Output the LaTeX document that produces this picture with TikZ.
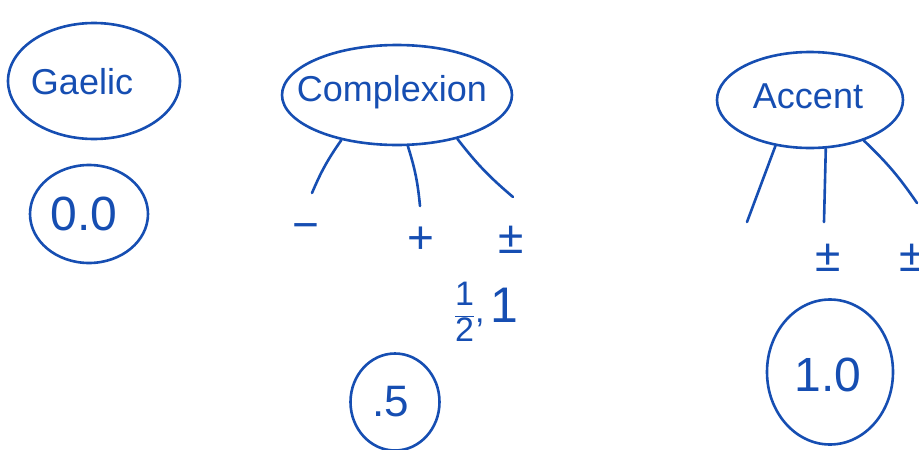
\documentclass[tikz,border=0pt]{standalone}
\usepackage{fontspec}
\setmainfont{Liberation Sans}
\usetikzlibrary{shapes.geometric}
\definecolor{penblue}{RGB}{22,78,178}
\tikzset{
  pen/.style={draw=penblue, line width=2.6pt, line cap=round},
  oval/.style={ellipse, pen, inner sep=0pt},
  big/.style={text=penblue, font=\fontsize{36}{40}\selectfont},
  huge/.style={text=penblue, font=\fontsize{48}{52}\selectfont},
  sign/.style={text=penblue, font=\fontsize{46}{48}\selectfont}
}
\begin{document}
\begin{tikzpicture}[x=1pt,y=-1pt]
\useasboundingbox (0,0) rectangle (919,450);
% Gaelic
\node[oval, minimum width=172pt, minimum height=116pt] (gae) at (94,81) {};
\node[big] (gaet) at (82,82) {Gaelic};
\node[oval, minimum width=118pt, minimum height=98pt] (g0) at (89,214) {};
\node[huge] (g0t) at (84,214) {0.0};
% Complexion
\node[oval, minimum width=230pt, minimum height=100pt] (cpx) at (397,95) {};
\node[big] (cpxt) at (392,92) {Complexion};
\coordinate (c1) at (312,193);
\coordinate (c2) at (420,206);
\coordinate (c3) at (513,197);
\draw[pen] (cpx.219) to[bend right=6] (c1);
\draw[pen] (cpx.282) to[bend left=6] (c2);
\draw[pen] (cpx.324) to[bend right=6] (c3);
\node[sign] (cm) at (306,232) {−};
\node[sign] (cp) at (421,240) {+};
\node[sign] (cpm) at (511,240) {±};
\node[text=penblue, font=\fontsize{34}{40}\selectfont] (half) at (486,312) {$\displaystyle\frac{\mbox{1}}{\mbox{2}}$,\,{\fontsize{50}{52}\selectfont 1}};
\node[oval, minimum width=89pt, minimum height=97pt] (c5) at (395,402) {};
\node[text=penblue, font=\fontsize{44}{48}\selectfont] (c5t) at (391,402) {.5};
% Accent
\node[oval, minimum width=186pt, minimum height=96pt] (acc) at (810,100) {};
\node[big] (acct) at (808,96) {Accent};
\coordinate (a1) at (747,222);
\coordinate (a2) at (824,222);
\coordinate (a3) at (917,203);
\draw[pen] (acc.233) -- (a1);
\draw[pen] (acc.288) -- (a2);
\draw[pen] (acc.323) to[bend left=6] (a3);
\node[sign] (apm) at (828,258) {±};
\node[sign] (apm2) at (912,258) {±};
\node[oval, minimum width=126pt, minimum height=145pt] (a10) at (830,372) {};
\node[huge] (a10t) at (828,375) {1.0};
\end{tikzpicture}
\end{document}
